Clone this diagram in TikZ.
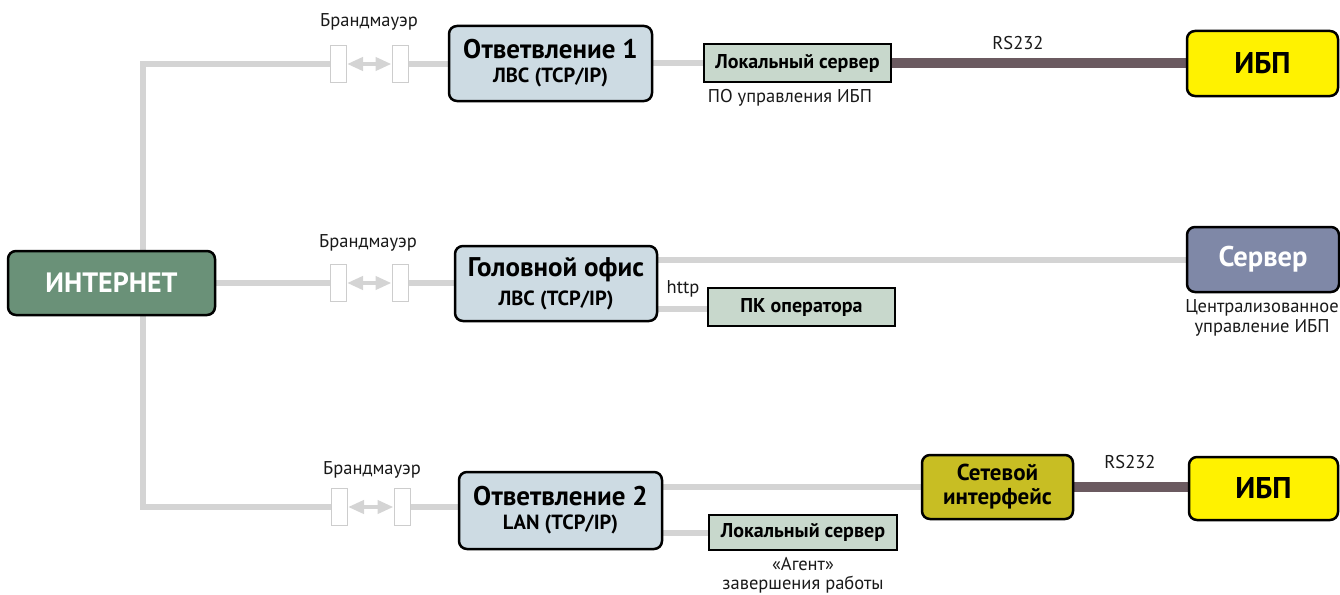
\documentclass[tikz,border=0pt]{standalone}
\usepackage{fontspec}
\setmainfont{PT Sans}
\usetikzlibrary{arrows.meta,backgrounds}
\definecolor{inetgreen}{RGB}{106,145,120}
\definecolor{brblue}{RGB}{205,219,227}
\definecolor{lsgreen}{RGB}{200,216,204}
\definecolor{upsyellow}{RGB}{255,242,0}
\definecolor{srvblue}{RGB}{127,136,167}
\definecolor{nicolive}{RGB}{200,190,35}
\definecolor{rsbrown}{RGB}{107,90,96}
\definecolor{langray}{RGB}{212,212,212}
\definecolor{fwgray}{RGB}{205,205,205}
\newcommand{\fs}[1]{\fontsize{#1}{#1}\selectfont}
\tikzset{
  rbox/.style={draw=black, line width=2.5pt, rounded corners=8pt, inner sep=0pt, align=center},
  sbox/.style={draw=black, line width=2pt, inner sep=0pt, align=center, fill=lsgreen, font=\bfseries\fs{20}},
  fwbox/.style={draw=fwgray, line width=1pt, fill=white, minimum width=16pt, minimum height=37pt, inner sep=0pt},
  lan/.style={draw=langray, line width=6pt},
  rsline/.style={draw=rsbrown, line width=10pt},
  fwarrow/.style={draw=langray, line width=4pt, {Triangle[length=16pt,width=13pt]}-{Triangle[length=16pt,width=13pt]}},
  lbl/.style={font=\fs{18.5}, inner sep=0pt, align=center, text=black!90}
}
\begin{document}
\begin{tikzpicture}[x=1pt,y=-1pt]
\path[use as bounding box] (0,0) rectangle (1340,594);
% nodes
\node[rbox, fill=inetgreen, minimum width=207pt, minimum height=64pt, text=white, font=\bfseries\fs{28}] (inet) at (111.5,283) {ИНТЕРНЕТ};
\node[fwbox] (fw1a) at (338.5,64) {};
\node[fwbox] (fw1b) at (400,64) {};
\node[fwbox] (fw2a) at (338.5,283) {};
\node[fwbox] (fw2b) at (400,283) {};
\node[fwbox] (fw3a) at (339.5,507) {};
\node[fwbox] (fw3b) at (402,507) {};
\node[rbox, fill=brblue, minimum width=203pt, minimum height=75pt] (br1) at (550.5,63.5) {{\bfseries\fs{27}Ответвление 1}\\[8pt]{\bfseries\fs{20.5}ЛВС (TCP/IP)}};
\node[rbox, fill=brblue, minimum width=202pt, minimum height=75pt] (hq) at (556,283.5) {{\bfseries\fs{27}Головной офис}\\[8pt]{\bfseries\fs{20.5}ЛВС (TCP/IP)}};
\node[rbox, fill=brblue, minimum width=203pt, minimum height=77pt] (br2) at (560.5,510.5) {{\bfseries\fs{27}Ответвление 2}\\[8pt]{\bfseries\fs{20.5}LAN (TCP/IP)}};
\node[sbox, minimum width=187pt, minimum height=38pt] (ls1) at (797.5,63) {Локальный сервер};
\node[sbox, minimum width=187pt, minimum height=38pt] (pc) at (801.5,307) {ПК оператора};
\node[sbox, minimum width=188pt, minimum height=35pt] (ls2) at (803,532.5) {Локальный сервер};
\node[rbox, fill=upsyellow, minimum width=151pt, minimum height=65pt, font=\bfseries\fs{30}] (ups1) at (1262.5,63.5) {ИБП};
\node[rbox, fill=srvblue, minimum width=152pt, minimum height=65pt, text=white, font=\bfseries\fs{28.5}] (srv) at (1263,259.5) {Сервер};
\node[rbox, fill=nicolive, minimum width=151pt, minimum height=64pt, font=\bfseries\fs{23}] (nic) at (997.5,487) {Сетевой\\[1pt]интерфейс};
\node[rbox, fill=upsyellow, minimum width=149pt, minimum height=63pt, font=\bfseries\fs{30}] (ups2) at (1263.5,488.5) {ИБП};
% labels
\node[lbl] (l1) at (369,22) {Брандмауэр};
\node[lbl] (l2) at (368,243) {Брандмауэр};
\node[lbl] (l3) at (372,470) {Брандмауэр};
\node[lbl] (rs1) at (1018,43) {RS232};
\node[lbl] (rs2) at (1130,462) {RS232};
\node[lbl] (po) at (790,98) {ПО управления ИБП};
\node[lbl] (http) at (683,289) {http};
\node[lbl] (cent) at (1262,318) {Централизованное\\[1pt]управление ИБП};
\node[lbl] (agent) at (803,575.5) {«Агент»\\[1pt]завершения работы};
% connectors
\coordinate (t1) at (143,64);
\begin{pgfonlayer}{background}
\draw[lan] (fw1a.west) -- (t1) |- (fw3a.west);
\draw[lan] (inet.east) -- (fw2a.west);
\draw[lan] (fw1b.east) -- (fw1b.east -| br1.west);
\draw[lan] (fw2b.east) -- (fw2b.east -| hq.west);
\draw[lan] (fw3b.east) -- (fw3b.east -| br2.west);
\draw[lan] (br1.east |- ls1.west) -- (ls1.west);
\draw[lan] (srv.west -| hq.east) -- (srv.west);
\draw[lan] ([yshift=-2pt]pc.west -| hq.east) -- ([yshift=-2pt]pc.west);
\draw[lan] (nic.west -| br2.east) -- (nic.west);
\draw[lan] (ls2.west -| br2.east) -- (ls2.west);
\draw[rsline] (ls1.east) -- (ls1.east -| ups1.west);
\draw[rsline] (nic.east) -- (nic.east -| ups2.west);
\end{pgfonlayer}
\draw[fwarrow] (fw1a.east) -- (fw1b.west);
\draw[fwarrow] (fw2a.east) -- (fw2b.west);
\draw[fwarrow] (fw3a.east) -- (fw3b.west);
\end{tikzpicture}
\end{document}
